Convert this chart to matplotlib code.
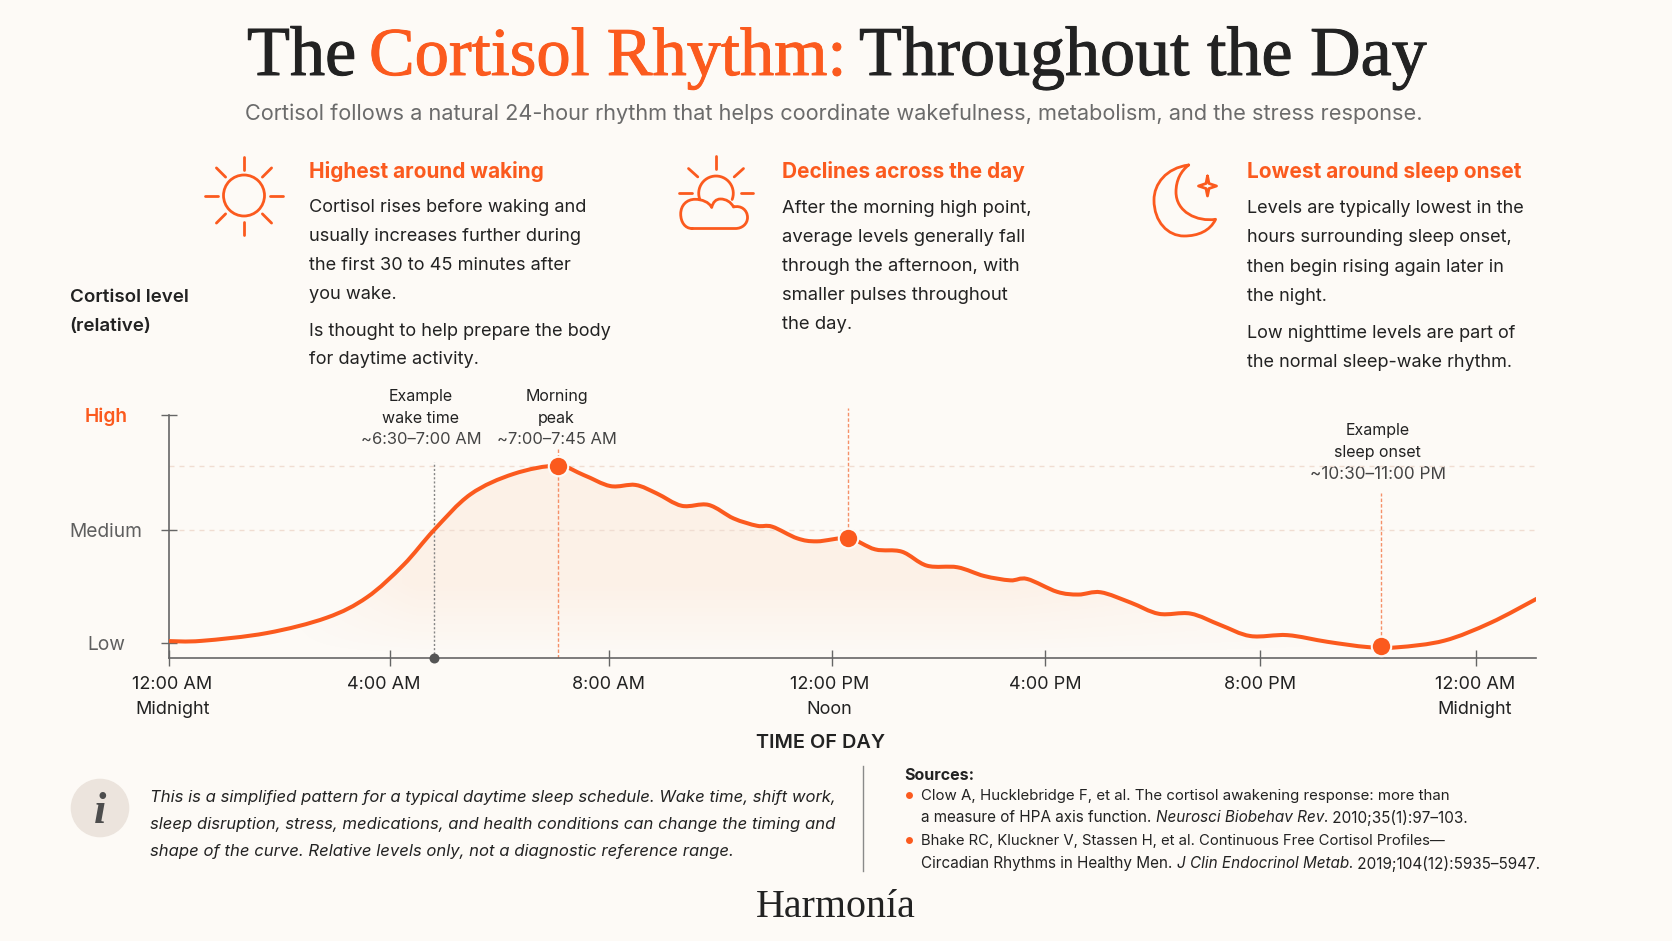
"""Cortisol rhythm infographic. Page elements are placed in pixels on a full-figure axes."""

import matplotlib
matplotlib.use("Agg")
import matplotlib.pyplot as plt
import matplotlib.patheffects as pe
import numpy as np
from matplotlib.patches import Circle, PathPatch
from matplotlib.path import Path
from matplotlib.transforms import ScaledTranslation

W, H = 1672, 941
BG = "#FDFAF6"
ORANGE = "#FB5A1E"
SOFT_ORANGE = "#F59068"
INK = "#222222"
GREY = "#5F5F5F"
SANS = "Inter"
SERIF = "Liberation Serif"

# curve (hours along the chart, level: Low=0, High=100)
hours = [0.00, 0.60, 1.80, 2.90, 3.64, 4.31, 4.87, 5.54, 6.33, 7.14, 7.62, 8.11, 8.57, 8.96,
         9.42, 9.91, 10.37, 10.80, 11.08, 11.54, 11.90, 12.48, 12.97, 13.46, 13.92, 14.48,
         14.97, 15.45, 15.76, 16.31, 16.70, 17.11, 17.66, 18.18, 18.76, 19.31, 19.86, 20.54,
         21.27, 22.01, 22.56, 23.42, 24.27, 25.11]
level = [1.4, 1.5, 4.9, 11.6, 20.5, 34.6, 49.8, 65.4, 74.3, 77.9, 73.8, 69.0, 69.5, 65.8,
         60.4, 60.8, 54.9, 51.7, 51.3, 46.2, 44.9, 46.2, 41.4, 40.4, 34.3, 33.6,
         29.8, 27.9, 28.5, 22.9, 21.7, 22.7, 18.2, 13.3, 13.4, 8.4, 3.6, 4.0,
         1.1, -1.2, -1.3, 1.6, 9.4, 19.8]

peak_hour, peak_level = 7.14, 77.9
mid_hour, mid_level = 12.48, 46.2
sleep_hour, sleep_level = 22.25, -0.8
wake_hour = 4.87

x_ticks = [0, 4.06, 8.08, 12.17, 16.09, 20.04, 24]
x_labels = ["12:00 AM\nMidnight", "4:00 AM\n ", "8:00 AM\n ", "12:00 PM\nNoon", "4:00 PM\n ",
            "8:00 PM\n ", "12:00 AM\nMidnight"]
x_label_shift_px = [3.7, -5.9, 0, -2, 0, 0, -1]
y_ticks = [0.5, 50, 100]
y_labels = ["Low", "Medium", "High"]
y_label_colors = [GREY, GREY, ORANGE]
guide_levels = [77.8, 50]

col_heads = ["Highest around waking", "Declines across the day", "Lowest around sleep onset"]
col_one = ["Cortisol rises before waking and", "usually increases further during",
           "the first 30 to 45 minutes after", "you wake.",
           "Is thought to help prepare the body", "for daytime activity."]
col_two = ["After the morning high point,", "average levels generally fall",
           "through the afternoon, with", "smaller pulses throughout", "the day."]
col_three = ["Levels are typically lowest in the", "hours surrounding sleep onset,",
             "then begin rising again later in", "the night.",
             "Low nighttime levels are part of", "the normal sleep-wake rhythm."]
note_lines = ["This is a simplified pattern for a typical daytime sleep schedule. Wake time, shift work,",
              "sleep disruption, stress, medications, and health conditions can change the timing and",
              "shape of the curve. Relative levels only, not a diagnostic reference range."]


def smooth_path(xs, ys, close_to=None):
    # Catmull-Rom through the read points, written as bezier segments
    pts = np.column_stack([xs, ys])
    verts = [pts[0]]
    codes = [Path.MOVETO]
    for i in range(len(pts) - 1):
        before = pts[max(i - 1, 0)]
        after = pts[min(i + 2, len(pts) - 1)]
        verts += [pts[i] + (pts[i + 1] - before) / 6, pts[i + 1] - (after - pts[i]) / 6, pts[i + 1]]
        codes += [Path.CURVE4] * 3
    if close_to is not None:
        verts += [(xs[-1], close_to), (xs[0], close_to), pts[0]]
        codes += [Path.LINETO, Path.LINETO, Path.CLOSEPOLY]
    return Path(verts, codes)


def put(page, x, y, s, size=13, color=INK, family=SANS, weight="normal", style="normal", ha="left",
        va="center"):
    if va == "center":
        y += 1.7  # Inter sits a little high inside its line box
    return page.text(x, y, s, fontsize=size, color=color, family=family, weight=weight, style=style,
                     ha=ha, va=va)


def put_runs(fig, page, x, y, runs, size, color):
    # consecutive pieces of one line with different styles
    renderer = fig.canvas.get_renderer()
    for s, style in runs:
        t = put(page, x, y, s, size=size, color=color, style=style)
        x += t.get_window_extent(renderer).width
    return x


def stroke(page, verts, codes=None, lw=2.0):
    page.add_patch(PathPatch(Path(verts, codes), fill=False, edgecolor=ORANGE, lw=lw, capstyle="round",
                             joinstyle="round"))


def rays(page, cx, cy, r0, r1, angles, lw=2.0):
    for a in np.radians(angles):
        stroke(page, [(cx + r0 * np.cos(a), cy + r0 * np.sin(a)), (cx + r1 * np.cos(a), cy + r1 * np.sin(a))], lw=lw)


def draw_icons(page):
    C = Path.CURVE4
    # sun
    page.add_patch(Circle((244, 195.5), 20.5, fill=False, edgecolor=ORANGE, lw=2.0))
    rays(page, 244, 195.5, 26, 39, [0, 45, 90, 135, 180, 225, 270, 315])
    # sun behind cloud
    rays(page, 716, 193.3, 24.5, 37, [180, 222, 270, 318, 0])
    a = np.radians(np.linspace(159, 381, 30))
    stroke(page, np.column_stack([716 + 17.3 * np.cos(a), 193.3 + 17.3 * np.sin(a)]))
    cloud = [(692, 228.5), (685, 228.5), (680.7, 222), (680.7, 214), (680.7, 205), (687, 199.3), (695, 199.3),
             (702, 199.3), (709, 202), (711.7, 207.5), (713, 202), (716, 199), (720.5, 199),
             (726, 199), (731, 202), (733.5, 207), (741, 205), (747.5, 210), (747.5, 217.5),
             (747.5, 224), (742, 228.5), (735.5, 228.5), (692, 228.5)]
    stroke(page, cloud, [Path.MOVETO] + [C] * 21 + [Path.LINETO])
    # moon and star
    moon = [(1188.7, 165), (1166, 168), (1154, 184), (1154, 200), (1154, 222), (1168, 236), (1184, 236),
            (1198, 236), (1210, 231), (1215.6, 219.3), (1197, 222), (1176, 212), (1176, 192),
            (1176, 180), (1181, 171), (1188.7, 165)]
    stroke(page, moon, [Path.MOVETO] + [C] * 15)
    sx, sy = 1207.5, 186
    star = [(sx, sy - 10), (sx + 1.5, sy - 2.5), (sx + 9, sy), (sx + 1.5, sy + 2.5), (sx, sy + 10),
            (sx - 1.5, sy + 2.5), (sx - 9, sy), (sx - 1.5, sy - 2.5), (sx, sy - 10)]
    stroke(page, star)


def draw_header(page):
    parts = [(247, "The", 50.6, INK), (369, "Cortisol Rhythm:", 49.3, ORANGE), (859, "Throughout the Day", 50.4, INK)]
    for x, s, size, col in parts:
        t = put(page, x, 75, s, size=size, color=col, family=SERIF, va="baseline")
        t.set_path_effects([pe.withStroke(linewidth=0.7, foreground=col)])
    put(page, 834, 112, "Cortisol follows a natural 24-hour rhythm that helps coordinate wakefulness, "
        "metabolism, and the stress response.", size=15.67, color="#6B6B6B", ha="center")


def draw_columns(page):
    for x, y, head in zip([309, 781.5, 1247], [169.5, 169.5, 170], col_heads):
        put(page, x, y, head, size=15, color=ORANGE, weight="bold")
    for x, size, ys, lines in zip([309, 781.5, 1247], [13.1, 13.3, 13],
                                  [[206, 235, 263.5, 292.5, 329.5, 358], [207, 236, 265, 294, 323],
                                   [207, 236, 265.5, 294.5, 331.5, 360.5]],
                                  [col_one, col_two, col_three]):
        for y, line in zip(ys, lines):
            put(page, x, y, line, size=size)
    put(page, 69.5, 295.5, "Cortisol level", size=13.5, weight="semibold")
    put(page, 69.5, 324.5, "(relative)", size=13.5, weight="semibold")


def draw_chart(fig, page):
    left, right, top, bottom = 168.7, 1536.4, 415.0, 658.3
    ax = fig.add_axes([left / W, 1 - bottom / H, (right - left) / W, (bottom - top) / H])
    ax.patch.set_alpha(0)
    ymin = -6.1
    xmax = hours[-1]
    ax.set_xlim(0, xmax)
    ax.set_ylim(ymin, 100)

    # soft orange wash under the curve
    gx = np.linspace(0, xmax, 200)
    gy = np.linspace(100, ymin, 100)
    fade_x = np.clip((gx - 2) / 2.5, 0, 1) * np.clip((24.5 - gx) / 9, 0, 1)
    fade_y = np.clip((gy - ymin) / 32, 0, 1)
    wash = np.zeros((100, 200, 4))
    wash[..., :3] = matplotlib.colors.to_rgb("#F07A20")
    wash[..., 3] = 0.07 * np.outer(fade_y, fade_x)
    area = PathPatch(smooth_path(hours, level, close_to=ymin), transform=ax.transData, fc="none", ec="none")
    ax.add_patch(area)
    im = ax.imshow(wash, extent=(0, xmax, ymin, 100), aspect="auto", zorder=1, interpolation="bilinear")
    im.set_clip_path(area)

    for g in guide_levels:
        ax.axhline(g, color="#F0DDD2", lw=1, dashes=(3.6, 3.6), zorder=1)

    ax.vlines(wake_hour, ymin, 79.5, color="#858585", lw=1, linestyles=(0, (1.5, 1.5)), zorder=2)
    ax.vlines(peak_hour, ymin, 85, color=SOFT_ORANGE, lw=1, linestyles=(0, (2.5, 1.5)), zorder=2)
    ax.vlines(mid_hour, mid_level, 103, color=SOFT_ORANGE, lw=1, linestyles=(0, (2.5, 1.5)), zorder=2, clip_on=False)
    ax.vlines(sleep_hour, sleep_level, 66, color=SOFT_ORANGE, lw=1, linestyles=(0, (2.5, 1.5)), zorder=2)

    ax.add_patch(PathPatch(smooth_path(hours, level), fill=False, edgecolor=ORANGE, lw=2.9, capstyle="round", zorder=3))
    ax.plot([peak_hour, mid_hour, sleep_hour], [peak_level, mid_level, sleep_level], "o", ms=14, color=ORANGE,
            mec=BG, mew=1.5, zorder=4, clip_on=False)
    ax.plot([wake_hour], [ymin], "o", ms=7.2, color="#555555", mec="none", zorder=5, clip_on=False)

    for side in ("top", "right"):
        ax.spines[side].set_visible(False)
    for side in ("left", "bottom"):
        ax.spines[side].set_color("#666666")
        ax.spines[side].set_linewidth(1.2)

    ax.set_xticks(x_ticks)
    ax.set_xticklabels(x_labels, fontsize=13, color=INK, family=SANS, linespacing=1.65)
    ax.tick_params(axis="x", direction="inout", length=11, width=1, color="#666666", pad=7)
    for lab, dx in zip(ax.get_xticklabels(), x_label_shift_px):
        lab.set_transform(lab.get_transform() + ScaledTranslation(dx / 100, 0, fig.dpi_scale_trans))
    ax.set_yticks(y_ticks)
    ax.set_yticklabels(y_labels, fontsize=13.8, family=SANS, ha="center")
    ax.tick_params(axis="y", direction="inout", length=11, width=1, color="#666666", pad=39.5)
    for lab, col in zip(ax.get_yticklabels(), y_label_colors):
        lab.set_color(col)
    ax.get_yticklabels()[2].set_weight("semibold")

    put(page, 821, 741, "TIME OF DAY", size=14.3, weight="semibold", ha="center")
    for cx, ys, lines, last_size in [(421, [394.5, 417, 438], ["Example", "wake time", "~6:30–7:00 AM"], 11.9),
                                     (556.6, [394.5, 417, 438], ["Morning", "peak", "~7:00–7:45 AM"], 11.9),
                                     (1377.6, [429, 451, 473], ["Example", "sleep onset", "~10:30–11:00 PM"], 12.4)]:
        put(page, cx, ys[0], lines[0], size=11.5, ha="center")
        put(page, cx, ys[1], lines[1], size=11.5, ha="center")
        put(page, cx, ys[2], lines[2], size=last_size, color="#444444", ha="center")


def draw_footer(fig, page):
    page.add_patch(Circle((100, 808), 29.3, fc="#ECE4DD", ec="none"))
    put(page, 100, 823, "i", size=32, color="#4D4D4D", family=SERIF, weight="bold", style="italic", ha="center",
        va="baseline")
    for y, line in zip([795.5, 823, 850], note_lines):
        put(page, 150, y, line, size=12, style="italic")
    page.plot([862.6, 862.6], [765.6, 871], color="#8A8A8A", lw=1)
    put(page, 904, 774, "Sources:", size=11.5, weight="bold")
    page.plot([908.5, 908.5], [794.5, 840], "o", ms=5, color=ORANGE, mec="none")
    put(page, 921, 794.5, "Clow A, Hucklebridge F, et al. The cortisol awakening response: more than", size=10.8)
    put_runs(fig, page, 921, 816, [("a measure of HPA axis function. ", "normal"), ("Neurosci Biobehav Rev.", "italic"),
                                   (" 2010;35(1):97–103.", "normal")], 11, INK)
    put(page, 921, 839.5, "Bhake RC, Kluckner V, Stassen H, et al. Continuous Free Cortisol Profiles—", size=10.7)
    put_runs(fig, page, 921, 862, [("Circadian Rhythms in Healthy Men. ", "normal"), ("J Clin Endocrinol Metab.", "italic"),
                                   (" 2019;104(12):5935–5947.", "normal")], 11, INK)
    put(page, 836, 916.7, "Harmonía", size=28.8, family=SERIF, ha="center", va="baseline")


def main():
    fig = plt.figure(figsize=(W / 100, H / 100), dpi=100, facecolor=BG)
    page = fig.add_axes([0, 0, 1, 1])
    page.set_xlim(0, W)
    page.set_ylim(H, 0)
    page.axis("off")

    draw_header(page)
    draw_icons(page)
    draw_columns(page)
    draw_chart(fig, page)
    draw_footer(fig, page)

    fig.savefig("out.png", dpi=100, facecolor=BG)
    plt.close(fig)


if __name__ == "__main__":
    main()
